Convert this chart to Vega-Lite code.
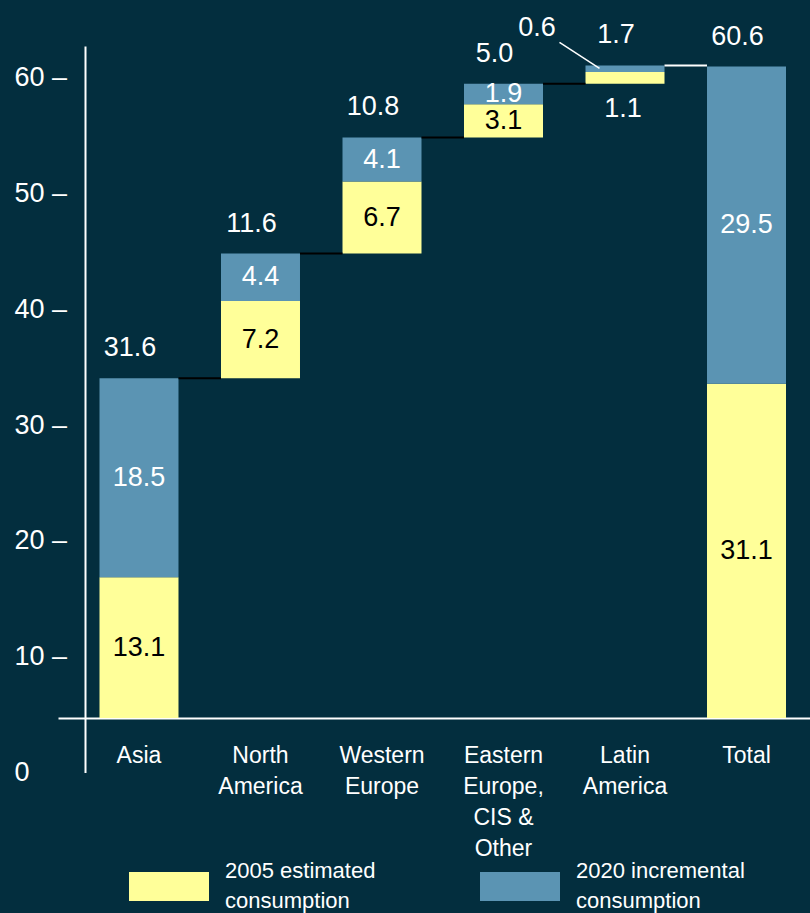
{
  "$schema": "https://vega.github.io/schema/vega-lite/v6.json",
  "width": 752,
  "height": 726.4,
  "autosize": {"type": "none"},
  "padding": {"left": 58, "top": 46, "right": 0, "bottom": 140.6},
  "background": "#032e3e",
  "config": {
    "view": {"stroke": null},
    "font": "Liberation Sans",
    "style": {"guide-label": {"lineHeight": 30}}
  },
  "datasets": {
    "segments": [
      {"region": "Asia", "series": "base", "k": 0, "amount": 0},
      {"region": "Asia", "series": "2005 estimated consumption", "k": 1, "amount": 13.1},
      {"region": "Asia", "series": "2020 incremental consumption", "k": 2, "amount": 18.5},
      {"region": "North America", "series": "base", "k": 0, "amount": 31.6},
      {"region": "North America", "series": "2005 estimated consumption", "k": 1, "amount": 7.2},
      {"region": "North America", "series": "2020 incremental consumption", "k": 2, "amount": 4.4},
      {"region": "Western Europe", "series": "base", "k": 0, "amount": 43.2},
      {"region": "Western Europe", "series": "2005 estimated consumption", "k": 1, "amount": 6.7},
      {"region": "Western Europe", "series": "2020 incremental consumption", "k": 2, "amount": 4.1},
      {"region": "Eastern Europe, CIS & Other", "series": "base", "k": 0, "amount": 54.0},
      {"region": "Eastern Europe, CIS & Other", "series": "2005 estimated consumption", "k": 1, "amount": 3.1},
      {"region": "Eastern Europe, CIS & Other", "series": "2020 incremental consumption", "k": 2, "amount": 1.9},
      {"region": "Latin America", "series": "base", "k": 0, "amount": 59.0},
      {"region": "Latin America", "series": "2005 estimated consumption", "k": 1, "amount": 1.1},
      {"region": "Latin America", "series": "2020 incremental consumption", "k": 2, "amount": 0.6},
      {"region": "Total", "series": "base", "k": 0, "amount": 0},
      {"region": "Total", "series": "2005 estimated consumption", "k": 1, "amount": 31.1},
      {"region": "Total", "series": "2020 incremental consumption", "k": 2, "amount": 29.5}
    ],
    "totals": [
      {"region": "Asia", "total": 31.6, "end": 31.6},
      {"region": "North America", "total": 11.6, "end": 43.2},
      {"region": "Western Europe", "total": 10.8, "end": 54.0},
      {"region": "Eastern Europe, CIS & Other", "total": 5.0, "end": 59.0},
      {"region": "Latin America", "total": 1.7, "end": 60.7},
      {"region": "Total", "total": 60.6, "end": 60.6}
    ],
    "connectors": [
      {"region": "Asia", "next": "North America", "level": 31.6},
      {"region": "North America", "next": "Western Europe", "level": 43.2},
      {"region": "Western Europe", "next": "Eastern Europe, CIS & Other", "level": 54.0},
      {"region": "Eastern Europe, CIS & Other", "next": "Latin America", "level": 59.0},
      {"region": "Latin America", "next": "Total", "level": 60.7}
    ],
    "notes": [
      {"region": "Latin America", "series": "2020 incremental consumption", "amount": 0.6, "level": 60.7},
      {"region": "Latin America", "series": "2005 estimated consumption", "amount": 1.1, "level": 59.0}
    ]
  },
  "layer": [
    {
      "data": {"values": [{"tick": 0}]},
      "mark": {"type": "rule", "opacity": 0},
      "encoding": {
        "y": {
          "field": "tick",
          "type": "quantitative",
          "scale": {"domain": [0, 62.76], "nice": false, "zero": false},
          "axis": {
            "orient": "left",
            "offset": -27,
            "values": [0, 10, 20, 30, 40, 50, 60],
            "labelExpr": "datum.value == 0 ? '0' : datum.label + ' –'",
            "labelAlign": "left",
            "labelPadding": 71,
            "labelFontSize": 27,
            "labelColor": "#ffffff",
            "labelBaseline": "middle",
            "labelFlush": false,
            "labelOverlap": false,
            "labelBound": false,
            "domain": true,
            "domainColor": "#ffffff",
            "domainWidth": 2,
            "ticks": false,
            "tickSize": 0,
            "grid": false,
            "title": null
          }
        }
      }
    },
    {
      "layer": [
        {
          "data": {"name": "segments"},
          "mark": {"type": "bar", "strokeWidth": 0},
          "encoding": {
            "x": {
              "field": "region",
              "type": "nominal",
              "sort": ["Asia", "North America", "Western Europe", "Eastern Europe, CIS & Other", "Latin America", "Total"],
              "scale": {
                "domain": ["Asia", "North America", "Western Europe", "Eastern Europe, CIS & Other", "Latin America", "Total"],
                "paddingInner": 0.3498,
                "paddingOuter": 0.2695,
                "align": 0.6336
              },
              "axis": {
                "orient": "bottom",
                "offset": -54.4,
                "title": null,
                "domain": true,
                "domainColor": "#ffffff",
                "domainWidth": 2,
                "ticks": false,
                "tickSize": 0,
                "labelAngle": 0,
                "labelFontSize": 23,
                "labelColor": "#ffffff",
                "labelPadding": 37,
                "labelBaseline": "middle",
                "labelLineHeight": 31,
                "labelLimit": 0,
                "labelOverlap": false,
                "labelExpr": "datum.label == 'Eastern Europe, CIS & Other' ? ['Eastern','Europe,','CIS &','Other'] : split(datum.label, ' ')"
              }
            },
            "y": {
              "field": "amount",
              "type": "quantitative",
              "stack": "zero",
              "scale": {"domain": [-5.06, 62.51], "nice": false, "zero": false},
              "axis": null
            },
            "order": {"field": "k", "type": "quantitative"},
            "color": {
              "field": "series",
              "type": "nominal",
              "scale": {
                "domain": ["base", "2005 estimated consumption", "2020 incremental consumption"],
                "range": ["transparent", "#ffff99", "#5b94b3"]
              },
              "legend": {
                "orient": "none",
                "legendX": 71,
                "legendY": 800.5,
                "direction": "horizontal",
                "title": null,
                "values": ["2005 estimated consumption", "2020 incremental consumption"],
                "symbolType": "M-1,-0.3625H1V0.3625H-1Z",
                "symbolSize": 6400,
                "symbolStrokeWidth": 0,
                "symbolOpacity": 1,
                "labelFontSize": 22,
                "labelColor": "#ffffff",
                "labelOffset": 16,
                "columnPadding": 104,
                "labelLimit": 400,
                "padding": 0,
                "labelBaseline": "line-bottom",
                "labelExpr": "datum.label == '2005 estimated consumption' ? ['2005 estimated','consumption'] : ['2020 incremental','consumption']"
              }
            }
          }
        },
        {
          "data": {"name": "segments"},
          "mark": {"type": "text", "fontSize": 27, "baseline": "middle"},
          "encoding": {
            "x": {"field": "region", "type": "nominal", "sort": ["Asia", "North America", "Western Europe", "Eastern Europe, CIS & Other", "Latin America", "Total"]},
            "y": {"field": "amount", "type": "quantitative", "stack": "zero", "bandPosition": 0.5},
            "detail": {"field": "series"},
            "order": {"field": "k", "type": "quantitative"},
            "text": {
              "condition": {"test": "datum.series == 'base' || datum.region == 'Latin America'", "value": ""},
              "field": "amount",
              "type": "quantitative",
              "format": ".1f"
            },
            "color": {
              "condition": {"test": "datum.series == '2005 estimated consumption'", "value": "#000000"},
              "value": "#ffffff"
            }
          }
        },
        {
          "data": {"name": "totals"},
          "mark": {"type": "text", "fontSize": 27, "baseline": "middle", "dx": -9, "dy": -30, "color": "#ffffff"},
          "encoding": {
            "x": {"field": "region", "type": "nominal", "sort": ["Asia", "North America", "Western Europe", "Eastern Europe, CIS & Other", "Latin America", "Total"]},
            "y": {"field": "end", "type": "quantitative"},
            "text": {"field": "total", "type": "quantitative", "format": ".1f"}
          }
        },
        {
          "data": {"name": "connectors"},
          "mark": {"type": "rule", "strokeWidth": 2, "xOffset": 39.5, "x2Offset": -39.5},
          "encoding": {
            "x": {"field": "region", "type": "nominal", "sort": ["Asia", "North America", "Western Europe", "Eastern Europe, CIS & Other", "Latin America", "Total"]},
            "x2": {"field": "next"},
            "y": {"field": "level", "type": "quantitative"},
            "color": {
              "condition": {"test": "datum.next == 'Total'", "value": "#ffffff"},
              "value": "#000000"
            }
          }
        },
        {
          "data": {"name": "notes"},
          "transform": [{"filter": "datum.series == '2020 incremental consumption'"}],
          "mark": {"type": "rule", "color": "#ffffff", "strokeWidth": 1.5, "xOffset": -65.5, "x2Offset": -25.5, "yOffset": -23, "y2Offset": 3},
          "encoding": {
            "x": {"field": "region", "type": "nominal", "sort": ["Asia", "North America", "Western Europe", "Eastern Europe, CIS & Other", "Latin America", "Total"]},
            "x2": {"field": "region"},
            "y": {"field": "level", "type": "quantitative"},
            "y2": {"field": "level"}
          }
        },
        {
          "data": {"name": "notes"},
          "transform": [{"filter": "datum.series == '2020 incremental consumption'"}],
          "mark": {"type": "text", "fontSize": 27, "baseline": "middle", "dx": -88, "dy": -37, "color": "#ffffff"},
          "encoding": {
            "x": {"field": "region", "type": "nominal", "sort": ["Asia", "North America", "Western Europe", "Eastern Europe, CIS & Other", "Latin America", "Total"]},
            "y": {"field": "level", "type": "quantitative"},
            "text": {"field": "amount", "type": "quantitative", "format": ".1f"}
          }
        },
        {
          "data": {"name": "notes"},
          "transform": [{"filter": "datum.series == '2005 estimated consumption'"}],
          "mark": {"type": "text", "fontSize": 27, "baseline": "middle", "dx": -2, "dy": 25, "color": "#ffffff"},
          "encoding": {
            "x": {"field": "region", "type": "nominal", "sort": ["Asia", "North America", "Western Europe", "Eastern Europe, CIS & Other", "Latin America", "Total"]},
            "y": {"field": "level", "type": "quantitative"},
            "text": {"field": "amount", "type": "quantitative", "format": ".1f"}
          }
        }
      ]
    }
  ],
  "resolve": {"scale": {"y": "independent"}, "axis": {"y": "independent"}}
}
